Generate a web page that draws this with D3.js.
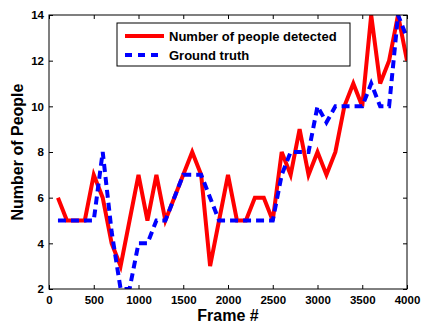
<!DOCTYPE html>
<html>
<head>
<meta charset="utf-8">
<script src="https://cdn.jsdelivr.net/npm/d3@7"></script>
<style>
  body { margin: 0; background: #fff; }
  svg { display: block; font-family: "Liberation Sans", Arial, sans-serif; font-weight: bold; }
  .axis text { font-size: 11.5px; font-weight: bold; fill: #000; }
  .axis line { stroke: #000; }
</style>
</head>
<body>
<div id="chart"></div>
<script>
// frame numbers (x) and people counts (y)
const frames = [100, 200, 300, 400, 500, 600, 700, 800, 900, 1000,
    1100, 1200, 1300, 1400, 1500, 1600, 1700, 1800, 1900, 2000,
    2100, 2200, 2300, 2400, 2500, 2600, 2700, 2800, 2900, 3000,
    3100, 3200, 3300, 3400, 3500, 3600, 3700, 3800, 3900, 4000];
const detected = [6, 5, 5, 5, 7, 6, 4, 3, 5, 7,
    5, 7, 5, 6, 7, 8, 7, 3, 5, 7,
    5, 5, 6, 6, 5, 8, 7, 9, 7, 8,
    7, 8, 10, 11, 10, 14, 11, 12, 14, 12];
const groundTruth = [5, 5, 5, 5, 5, 8, 4.5, 2, 2, 4,
    4, 5, 5, 6, 7, 7, 7, 6, 5, 5,
    5, 5, 5, 5, 5, 7, 8, 8, 8, 10,
    9.3, 10, 10, 10, 10, 11, 10, 10, 14, 13];
const xTicks = [0, 500, 1000, 1500, 2000, 2500, 3000, 3500, 4000];
const yTicks = [2, 4, 6, 8, 10, 12, 14];
const legendLabels = ["Number of people detected", "Ground truth"];

const W = 422, H = 324;
const margin = { top: 15, right: 15, bottom: 35, left: 49 };
const width = W - margin.left - margin.right;
const height = H - margin.top - margin.bottom;

const x = d3.scaleLinear().domain([0, 4000]).range([0, width]);
const y = d3.scaleLinear().domain([2, 14]).range([height, 0]);

const svg = d3.select("#chart")
    .append("svg")
    .attr("width", W)
    .attr("height", H)
    .append("g")
    .attr("transform", `translate(${margin.left}, ${margin.top})`);

svg.append("clipPath").attr("id", "clip")
    .append("rect").attr("width", width).attr("height", height);

// axes, MATLAB style: ticks inside on all four sides
const tick = 4;
svg.append("g").attr("class", "axis")
    .attr("transform", `translate(0, ${height})`)
    .call(d3.axisBottom(x).tickValues(xTicks).tickFormat(d3.format("d")).tickSizeInner(-tick).tickSizeOuter(0).tickPadding(7))
    .call(g => g.select(".domain").remove());
svg.append("g").attr("class", "axis")
    .call(d3.axisLeft(y).tickValues(yTicks).tickSizeInner(-tick).tickSizeOuter(0).tickPadding(5))
    .call(g => g.select(".domain").remove());
svg.append("g").attr("class", "axis")
    .call(d3.axisTop(x).tickValues(xTicks).tickFormat("").tickSizeInner(-tick).tickSizeOuter(0))
    .call(g => g.select(".domain").remove());
svg.append("g").attr("class", "axis")
    .attr("transform", `translate(${width}, 0)`)
    .call(d3.axisRight(y).tickValues(yTicks).tickFormat("").tickSizeInner(-tick).tickSizeOuter(0))
    .call(g => g.select(".domain").remove());

const line = d3.line()
    .x((d, i) => x(frames[i]))
    .y(d => y(d));

const plot = svg.append("g").attr("clip-path", "url(#clip)");

plot.append("path")
    .datum(detected)
    .attr("fill", "none")
    .attr("stroke", "#ff0000")
    .attr("stroke-width", 4)
    .attr("d", line);

plot.append("path")
    .datum(groundTruth)
    .attr("fill", "none")
    .attr("stroke", "#0000ff")
    .attr("stroke-width", 4)
    .attr("stroke-dasharray", "8,5")
    .attr("d", line);

// frame
svg.append("rect")
    .attr("width", width)
    .attr("height", height)
    .attr("fill", "none")
    .attr("stroke", "#000")
    .attr("stroke-width", 1);

// axis titles
svg.append("text")
    .attr("x", width / 2)
    .attr("y", height + 32)
    .attr("text-anchor", "middle")
    .style("font-size", "16px")
    .text("Frame #");

svg.append("text")
    .attr("transform", "rotate(-90)")
    .attr("x", -height / 2)
    .attr("y", -26)
    .attr("text-anchor", "middle")
    .style("font-size", "16px")
    .text("Number of People");

// legend
const legend = svg.append("g").attr("transform", `translate(${117 - margin.left}, ${23 - margin.top})`);
legend.append("rect")
    .attr("width", 233)
    .attr("height", 43)
    .attr("fill", "#fff")
    .attr("stroke", "#000");
const styles = [{ c: "#ff0000", dash: null }, { c: "#0000ff", dash: "7,6" }];
legendLabels.forEach((lab, i) => {
    const ly = 13 + i * 19;
    legend.append("line")
        .attr("x1", 8).attr("x2", 47)
        .attr("y1", ly).attr("y2", ly)
        .attr("stroke", styles[i].c)
        .attr("stroke-width", 4)
        .attr("stroke-dasharray", styles[i].dash);
    legend.append("text")
        .attr("x", 52)
        .attr("y", ly + 4.5)
        .style("font-size", "13px")
        .text(lab);
});
</script>
</body>
</html>
